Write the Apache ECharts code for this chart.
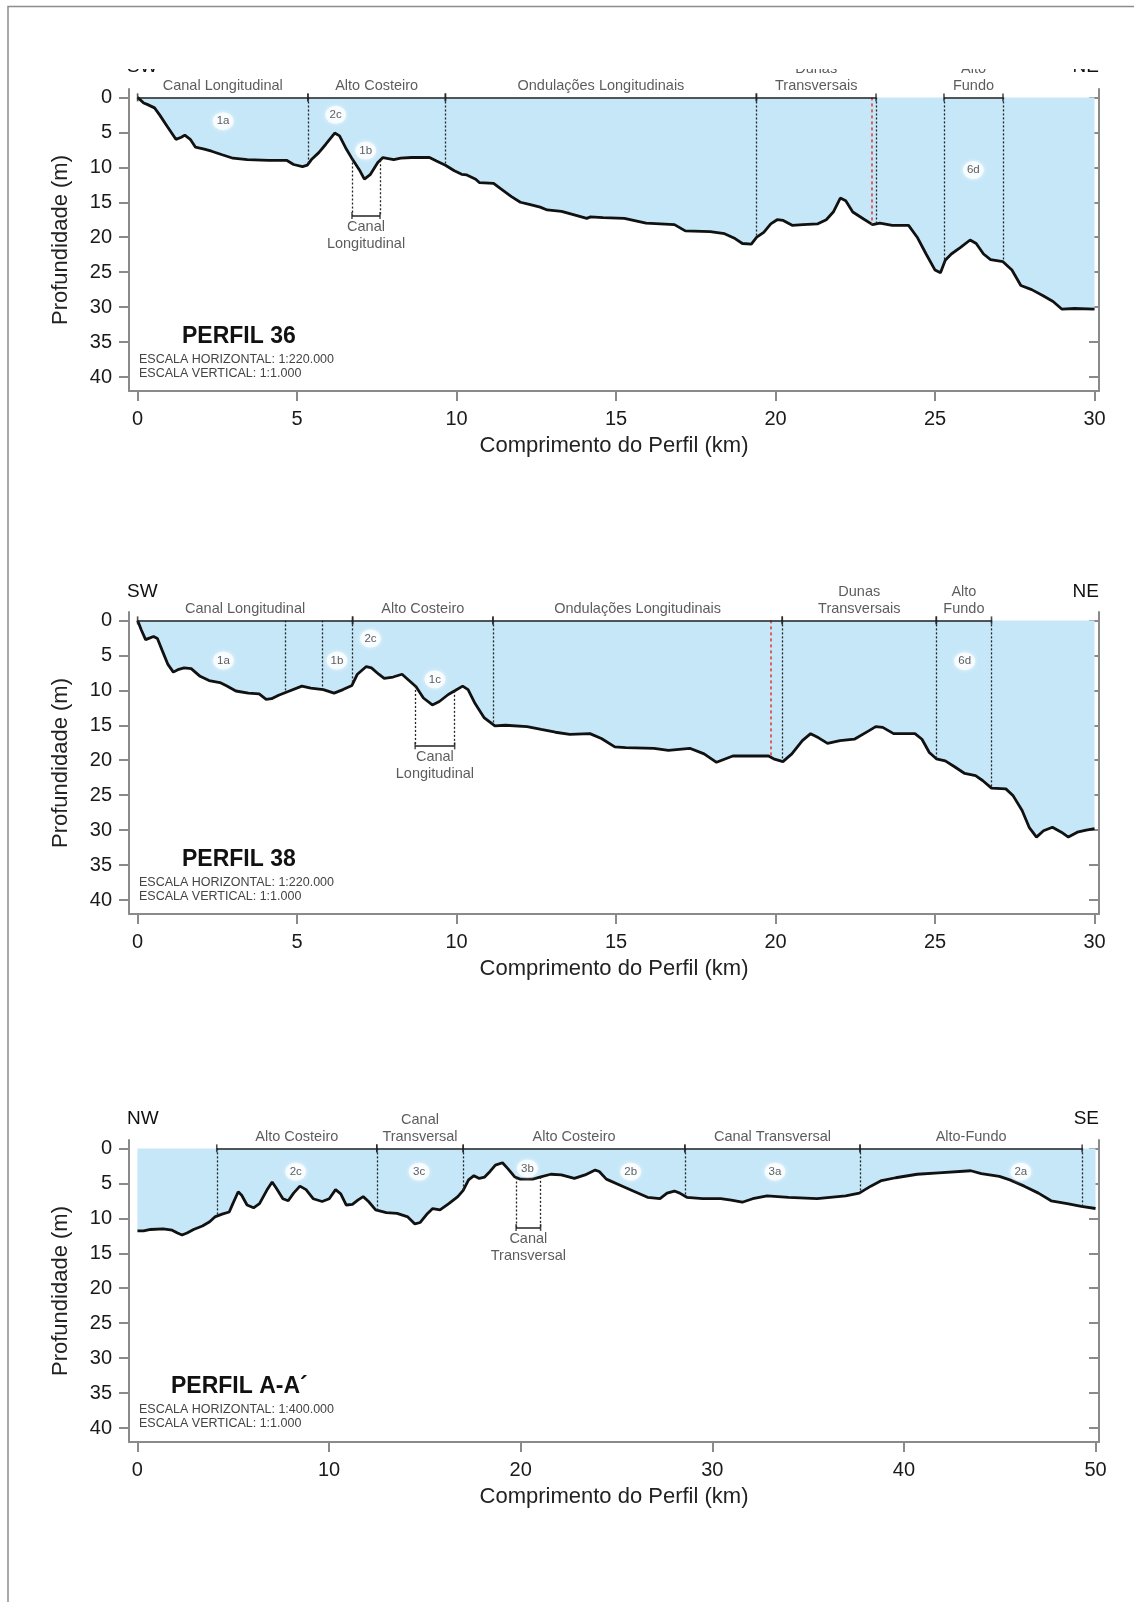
<!DOCTYPE html>
<html>
<head>
<meta charset="utf-8">
<title>Perfis batimétricos</title>
<script src="https://cdn.jsdelivr.net/npm/echarts@6/dist/echarts.min.js"></script>
<style>
  html, body { margin: 0; padding: 0; background: #fff; }
  #chart { width: 1134px; height: 1602px; }
</style>
</head>
<body>
<div id="chart"></div>
<script>
// profundidade (m) ao longo do perfil (km)
var perfil36 = [
  [0, 0], [0.19, 0.8], [0.3, 1.0], [0.53, 1.5], [0.69, 2.5], [0.92, 4.1], [1.2, 6.0], [1.37, 5.7],
  [1.48, 5.4], [1.65, 6.0], [1.81, 7.1], [2.09, 7.4], [2.32, 7.7], [2.65, 8.2], [2.99, 8.7], [3.44, 8.9],
  [4.11, 9.0], [4.67, 9.0], [4.89, 9.6], [5.17, 9.9], [5.32, 9.7], [5.45, 8.9], [5.68, 7.9], [5.9, 6.7],
  [6.18, 5.1], [6.33, 5.5], [6.52, 7.2], [6.74, 8.9], [6.97, 10.5], [7.11, 11.7], [7.3, 11.0], [7.53, 9.3],
  [7.69, 8.6], [8.03, 8.9], [8.25, 8.7], [8.59, 8.6], [9.15, 8.6], [9.37, 9.1], [9.65, 9.7], [9.93, 10.5],
  [10.16, 11.0], [10.32, 11.1], [10.6, 11.7], [10.72, 12.2], [11.16, 12.3], [11.39, 13.1], [11.72, 14.2],
  [12.0, 15.0], [12.28, 15.3], [12.62, 15.7], [12.84, 16.1], [13.29, 16.3], [13.69, 16.8], [14.08, 17.3],
  [14.2, 17.1], [14.59, 17.2], [15.26, 17.3], [15.94, 18.0], [16.83, 18.2], [17.17, 19.1], [17.95, 19.2],
  [18.4, 19.5], [18.73, 20.2], [18.96, 20.9], [19.24, 21.0], [19.41, 20.0], [19.63, 19.3], [19.85, 18.1],
  [20.05, 17.5], [20.24, 17.6], [20.52, 18.3], [20.86, 18.2], [21.31, 18.1], [21.59, 17.5], [21.81, 16.4],
  [22.03, 14.4], [22.2, 14.8], [22.42, 16.4], [22.76, 17.4], [23.04, 18.2], [23.27, 18.0], [23.66, 18.3],
  [24.17, 18.3], [24.44, 20.0], [24.72, 22.4], [25.0, 24.7], [25.17, 25.1], [25.32, 23.3], [25.51, 22.4],
  [25.79, 21.5], [26.1, 20.4], [26.29, 20.9], [26.52, 22.4], [26.74, 23.2], [27.13, 23.5], [27.41, 24.7],
  [27.69, 26.9], [28.03, 27.5], [28.36, 28.3], [28.7, 29.2], [28.98, 30.3], [29.37, 30.2], [30.0, 30.3]
]
var perfil38 = [
  [0, 0], [0.11, 1.3], [0.25, 2.75], [0.39, 2.5], [0.5, 2.3], [0.62, 2.6], [0.78, 4.4], [0.95, 6.3],
  [1.12, 7.4], [1.29, 7.0], [1.46, 6.8], [1.68, 6.9], [1.96, 8.0], [2.24, 8.6], [2.58, 8.9], [2.8, 9.4],
  [3.08, 10.1], [3.47, 10.4], [3.81, 10.5], [4.03, 11.3], [4.2, 11.2], [4.42, 10.7], [4.7, 10.2], [5.15, 9.4],
  [5.43, 9.7], [5.82, 9.9], [6.16, 10.4], [6.44, 9.9], [6.72, 9.3], [6.89, 7.7], [7.17, 6.6], [7.33, 6.8],
  [7.56, 7.7], [7.73, 8.3], [8.01, 8.1], [8.29, 7.7], [8.51, 8.6], [8.73, 9.5], [8.96, 11.1], [9.24, 12.1],
  [9.46, 11.6], [9.74, 10.6], [9.97, 10.0], [10.19, 9.4], [10.36, 9.9], [10.58, 11.9], [10.86, 13.9],
  [11.2, 15.1], [11.53, 15.0], [12.21, 15.2], [12.65, 15.6], [13.1, 16.0], [13.55, 16.3], [14.18, 16.2],
  [14.54, 16.9], [14.96, 18.1], [15.3, 18.2], [16.19, 18.3], [16.64, 18.6], [17.31, 18.3], [17.76, 19.1],
  [18.15, 20.3], [18.66, 19.4], [19.78, 19.4], [19.94, 19.8], [20.23, 20.2], [20.51, 19.1], [20.84, 17.2],
  [21.1, 16.2], [21.35, 16.8], [21.63, 17.6], [22.02, 17.2], [22.47, 17.0], [22.92, 15.8], [23.14, 15.2],
  [23.36, 15.3], [23.7, 16.2], [24.37, 16.2], [24.59, 17.0], [24.82, 18.9], [25.04, 19.8], [25.32, 20.1],
  [25.6, 20.9], [25.93, 21.9], [26.27, 22.2], [26.49, 22.9], [26.77, 24.0], [27.22, 24.1], [27.45, 25.1],
  [27.73, 27.2], [27.95, 29.6], [28.18, 31.0], [28.4, 30.1], [28.68, 29.6], [28.96, 30.3], [29.18, 31.0],
  [29.46, 30.3], [29.74, 30.0], [30.0, 29.8]
]
var perfilAA = [
  [0, 11.8], [0.32, 11.8], [0.69, 11.6], [1.34, 11.5], [1.81, 11.7], [2.09, 12.1], [2.33, 12.4], [2.59, 12.1],
  [2.93, 11.6], [3.39, 11.1], [3.77, 10.5], [4.04, 9.8], [4.42, 9.4], [4.79, 9.1], [4.98, 7.9], [5.26, 6.2],
  [5.44, 6.7], [5.72, 8.1], [6.06, 8.5], [6.37, 7.9], [6.75, 6.0], [7.03, 4.8], [7.25, 5.7], [7.59, 7.2],
  [7.87, 7.5], [8.15, 6.4], [8.48, 5.4], [8.8, 5.9], [9.17, 7.2], [9.64, 7.6], [10.01, 7.2], [10.34, 5.9],
  [10.61, 6.5], [10.9, 8.1], [11.22, 8.0], [11.5, 7.4], [11.78, 6.9], [12.06, 7.6], [12.43, 8.8], [12.99, 9.2],
  [13.55, 9.3], [14.11, 9.8], [14.48, 10.8], [14.76, 10.6], [15.14, 9.3], [15.41, 8.6], [15.79, 8.8],
  [16.25, 7.9], [16.72, 6.9], [17.0, 6.0], [17.28, 4.5], [17.56, 3.9], [17.84, 4.3], [18.12, 4.1], [18.4, 3.3],
  [18.68, 2.4], [19.05, 2.05], [19.33, 2.9], [19.7, 4.1], [19.98, 4.4], [20.63, 4.4], [21.0, 4.1],
  [21.57, 3.7], [22.12, 3.8], [22.8, 4.3], [23.36, 3.8], [23.89, 3.1], [24.1, 3.3], [24.47, 4.4], [25.22, 5.3],
  [25.96, 6.2], [26.62, 7.0], [27.27, 7.2], [27.64, 6.4], [28.02, 6.1], [28.3, 6.4], [28.67, 7.0], [29.5, 7.2],
  [30.44, 7.2], [30.99, 7.4], [31.56, 7.7], [32.11, 7.2], [32.86, 6.8], [33.98, 7.0], [35.47, 7.2],
  [36.96, 6.8], [37.67, 6.4], [38.27, 5.4], [38.83, 4.6], [39.57, 4.2], [40.69, 3.7], [41.81, 3.5],
  [43.49, 3.2], [44.04, 3.6], [44.98, 4.0], [45.53, 4.5], [46.28, 5.4], [47.02, 6.4], [47.68, 7.5],
  [48.52, 7.9], [49.26, 8.3], [50.0, 8.6]
]

// compartimentos: [nome, início km, fim km]
var secoes36 = [
  ['Canal Longitudinal', 0, 5.34], ['Alto Costeiro', 5.34, 9.65], ['Ondulações Longitudinais', 9.65, 19.4],
  ['Dunas\nTransversais', 19.4, 23.15], ['Alto\nFundo', 25.28, 27.13]
]
var secoes38 = [
  ['Canal Longitudinal', 0, 6.74], ['Alto Costeiro', 6.74, 11.14], ['Ondulações Longitudinais', 11.14, 20.21],
  ['Dunas\nTransversais', 20.21, 25.04], ['Alto\nFundo', 25.04, 26.77]
]
var secoesAA = [
  ['Alto Costeiro', 4.14, 12.49], ['Canal\nTransversal', 12.49, 17.0], ['Alto Costeiro', 17.0, 28.57],
  ['Canal Transversal', 28.57, 37.71], ['Alto-Fundo', 37.71, 49.3]
]

// limites pontilhados (km)
var limites36 = [5.34, 9.65, 19.4, 23.15, 25.28, 27.13]
var limitesVermelhos36 = [23.02]
var limites38 = [4.62, 5.8, 6.74, 11.14, 20.21, 25.04, 26.77]
var limitesVermelhos38 = [19.85]
var limitesAA = [4.14, 12.49, 17.0, 28.57, 37.71, 49.3]
var limitesVermelhosAA = []

// unidades: [rótulo, km, profundidade]
var unidades36 = [['1a', 2.68, 3.4], ['2c', 6.21, 2.5], ['1b', 7.15, 7.6], ['6d', 26.2, 10.4]]
var unidades38 = [['1a', 2.69, 5.75], ['1b', 6.25, 5.75], ['2c', 7.3, 2.6], ['1c', 9.32, 8.45], ['6d', 25.93, 5.84]]
var unidadesAA = [['2c', 8.26, 3.34], ['3c', 14.7, 3.34], ['3b', 20.35, 2.87], ['2b', 25.74, 3.34], ['3a', 33.27, 3.34], ['2a', 46.1, 3.34]]

// canal destacado: [rótulo, início km, fim km, profundidade da chave]
var canal36 = ['Canal\nLongitudinal', 6.72, 7.6, 16.9]
var canal38 = ['Canal\nLongitudinal', 8.7, 9.94, 17.95]
var canalAA = ['Canal\nTransversal', 19.76, 21.04, 11.3]

var ticksProf = [0, 5, 10, 15, 20, 25, 30, 35, 40]
var ticksKm30 = [0, 5, 10, 15, 20, 25, 30]
var ticksKm50 = [0, 10, 20, 30, 40, 50]

var FONT = '"Liberation Sans", Arial, sans-serif'
var AXIS_COLOR = '#8a8a8a'
var WATER = '#c6e7f8'

var paineis = [
  { perfil: perfil36, secoes: secoes36, limites: limites36, vermelhos: limitesVermelhos36, unidades: unidades36, canal: canal36, ticks: ticksKm30, xmin: -0.27, xmax: 30.14, top: 89 },
  { perfil: perfil38, secoes: secoes38, limites: limites38, vermelhos: limitesVermelhos38, unidades: unidades38, canal: canal38, ticks: ticksKm30, xmin: -0.27, xmax: 30.14, top: 612 },
  { perfil: perfilAA, secoes: secoesAA, limites: limitesAA, vermelhos: limitesVermelhosAA, unidades: unidadesAA, canal: canalAA, ticks: ticksKm50, xmin: -0.44, xmax: 50.18, top: 1140 }
]

function depthAt (perfil, x) {
  for (var k = 1; k < perfil.length; k++) {
    if (perfil[k][0] >= x) {
      var a = perfil[k - 1]
      var b = perfil[k]
      return a[1] + (b[1] - a[1]) * (x - a[0]) / (b[0] - a[0])
    }
  }
  return perfil[perfil.length - 1][1]
}

var option = {
  animation: false,
  backgroundColor: '#fff',
  grid: [],
  xAxis: [],
  yAxis: [],
  series: [],
  graphic: []
}

paineis.forEach(function (p, i) {
  option.grid.push({ left: 129, width: 970, top: p.top, height: 302 })
  option.xAxis.push({
    gridIndex: i,
    type: 'value',
    min: p.xmin,
    max: p.xmax,
    name: 'Comprimento do Perfil (km)',
    nameLocation: 'middle',
    nameGap: 44,
    nameTextStyle: { fontSize: 22, color: '#222', fontFamily: FONT },
    axisLine: { onZero: false, lineStyle: { color: AXIS_COLOR, width: 2 } },
    axisTick: { customValues: p.ticks, length: 10, lineStyle: { color: AXIS_COLOR, width: 2 } },
    axisLabel: { customValues: p.ticks, fontSize: 20, color: '#1a1a1a', margin: 18, fontFamily: FONT },
    splitLine: { show: false }
  })
  option.yAxis.push({
    gridIndex: i,
    type: 'value',
    inverse: true,
    min: -1.2,
    max: 42,
    name: 'Profundidade (m)',
    nameLocation: 'middle',
    nameGap: 57,
    nameRotate: 90,
    nameTextStyle: { fontSize: 22, color: '#222', fontFamily: FONT },
    axisLine: { show: true, onZero: false, lineStyle: { color: AXIS_COLOR, width: 2 } },
    axisTick: { show: true, customValues: ticksProf, length: 10, lineStyle: { color: AXIS_COLOR, width: 2 } },
    axisLabel: { customValues: ticksProf, fontSize: 20, color: '#1a1a1a', margin: 17, fontFamily: FONT },
    splitLine: { show: false }
  })
})
// eixos da direita, só com marcas para dentro
paineis.forEach(function (p, i) {
  option.yAxis.push({
    gridIndex: i,
    type: 'value',
    inverse: true,
    min: -1.2,
    max: 42,
    position: 'right',
    axisLine: { show: true, onZero: false, lineStyle: { color: AXIS_COLOR, width: 2 } },
    axisTick: { show: true, inside: true, customValues: ticksProf, length: 10, lineStyle: { color: AXIS_COLOR, width: 2 } },
    axisLabel: { show: false },
    splitLine: { show: false }
  })
})

paineis.forEach(function (p, i) {
  var base = { xAxisIndex: i, yAxisIndex: i, silent: true }

  // fundo marinho e lâmina d'água
  option.series.push(Object.assign({
    type: 'line',
    data: p.perfil,
    showSymbol: false,
    z: 2,
    lineStyle: { color: '#111', width: 2.8 },
    areaStyle: { color: WATER, opacity: 1 }
  }, base))

  // chaves superiores
  option.series.push(Object.assign({
    type: 'lines',
    coordinateSystem: 'cartesian2d',
    z: 4,
    lineStyle: { color: '#222', width: 1.6, opacity: 1 },
    data: p.secoes.map(function (s) { return { coords: [[s[1], 0], [s[2], 0]] } })
  }, base))
  var marcas = []
  p.secoes.forEach(function (s) { marcas.push([s[1], 0], [s[2], 0]) })
  option.series.push(Object.assign({
    type: 'scatter',
    z: 4,
    symbol: 'rect',
    symbolSize: [1.6, 8],
    itemStyle: { color: '#222' },
    data: marcas
  }, base))
  option.series.push(Object.assign({
    type: 'scatter',
    z: 5,
    symbolSize: 0,
    label: {
      show: true, position: 'top', distance: 3, formatter: '{b}',
      fontSize: 14.5, lineHeight: 17, color: '#333', fontFamily: FONT
    },
    data: p.secoes.map(function (s) { return { name: s[0], value: [(s[1] + s[2]) / 2, 0] } })
  }, base))

  // limites pontilhados
  option.series.push(Object.assign({
    type: 'lines',
    coordinateSystem: 'cartesian2d',
    z: 3,
    lineStyle: { color: '#222', width: 1.3, type: [2, 2], opacity: 1 },
    data: p.limites.map(function (x) { return { coords: [[x, 0], [x, depthAt(p.perfil, x)]] } })
  }, base))
  option.series.push(Object.assign({
    type: 'lines',
    coordinateSystem: 'cartesian2d',
    z: 3,
    lineStyle: { color: '#e0403a', width: 1.6, type: [3, 3], opacity: 1 },
    data: p.vermelhos.map(function (x) { return { coords: [[x, 0], [x, depthAt(p.perfil, x)]] } })
  }, base))

  // canal destacado abaixo do perfil
  var c = p.canal
  option.series.push(Object.assign({
    type: 'lines',
    coordinateSystem: 'cartesian2d',
    z: 3,
    lineStyle: { color: '#222', width: 1.3, type: [2, 2], opacity: 1 },
    data: [
      { coords: [[c[1], depthAt(p.perfil, c[1])], [c[1], c[3]]] },
      { coords: [[c[2], depthAt(p.perfil, c[2])], [c[2], c[3]]] }
    ]
  }, base))
  option.series.push(Object.assign({
    type: 'lines',
    coordinateSystem: 'cartesian2d',
    z: 3,
    lineStyle: { color: '#222', width: 1.6, opacity: 1 },
    data: [{ coords: [[c[1], c[3]], [c[2], c[3]]] }]
  }, base))
  option.series.push(Object.assign({
    type: 'scatter',
    z: 4,
    symbol: 'rect',
    symbolSize: [1.5, 7],
    itemStyle: { color: '#222' },
    data: [[c[1], c[3]], [c[2], c[3]]]
  }, base))
  option.series.push(Object.assign({
    type: 'scatter',
    z: 4,
    symbolSize: 0,
    label: {
      show: true, position: 'bottom', distance: 3, formatter: '{b}',
      fontSize: 14.5, lineHeight: 17, color: '#333', fontFamily: FONT
    },
    data: [{ name: c[0], value: [(c[1] + c[2]) / 2, c[3]] }]
  }, base))

  // unidades em círculos brancos
  option.series.push(Object.assign({
    type: 'scatter',
    z: 6,
    symbol: 'circle',
    symbolSize: [21, 18],
    itemStyle: { color: 'rgba(255,255,255,0.92)', shadowBlur: 4, shadowColor: 'rgba(255,255,255,0.9)' },
    label: { show: true, position: 'inside', formatter: '{b}', fontSize: 11.5, color: '#333', fontFamily: FONT },
    data: p.unidades.map(function (u) { return { name: u[0], value: [u[1], u[2]] } })
  }, base))
})

function texto (t, x, y, size, opts) {
  return Object.assign({
    type: 'text',
    x: x,
    y: y,
    z: 50,
    silent: true,
    style: {
      text: t,
      fill: '#111',
      font: size + 'px ' + FONT,
      textAlign: 'left',
      textVerticalAlign: 'middle'
    }
  }, opts || {})
}

var rumos = [['SW', 'NE', 67], ['SW', 'NE', 592], ['NW', 'SE', 1119]]
rumos.forEach(function (r) {
  option.graphic.push(texto(r[0], 127, r[2], 19))
  var d = texto(r[1], 1099, r[2], 19)
  d.style.textAlign = 'right'
  option.graphic.push(d)
})

var titulos = [
  ['PERFIL 36', 182, 337, '1:220.000'],
  ['PERFIL 38', 182, 860, '1:220.000'],
  ['PERFIL A-A´', 171, 1387, '1:400.000']
]
titulos.forEach(function (t) {
  var el = texto(t[0], t[1], t[2], 23)
  el.style.font = 'bold 23px ' + FONT
  option.graphic.push(el)
  var e1 = texto('ESCALA HORIZONTAL: ' + t[3], 139, t[2] + 23, 12.5)
  e1.style.fill = '#444'
  var e2 = texto('ESCALA VERTICAL: 1:1.000', 139, t[2] + 37, 12.5)
  e2.style.fill = '#444'
  option.graphic.push(e1, e2)
})

// recorte da figura original no topo e moldura
option.graphic.push({
  type: 'rect', z: 1000, silent: true,
  shape: { x: 9, y: 8, width: 1125, height: 61 },
  style: { fill: '#fff' }
})
option.graphic.push({
  type: 'polyline', z: 1001, silent: true,
  shape: { points: [[8, 1602], [8, 6.5], [1134, 6.5]] },
  style: { stroke: '#8c8c8c', lineWidth: 1.5, fill: null }
})

var myChart = echarts.init(document.getElementById('chart'))
myChart.setOption(option)
</script>
</body>
</html>
